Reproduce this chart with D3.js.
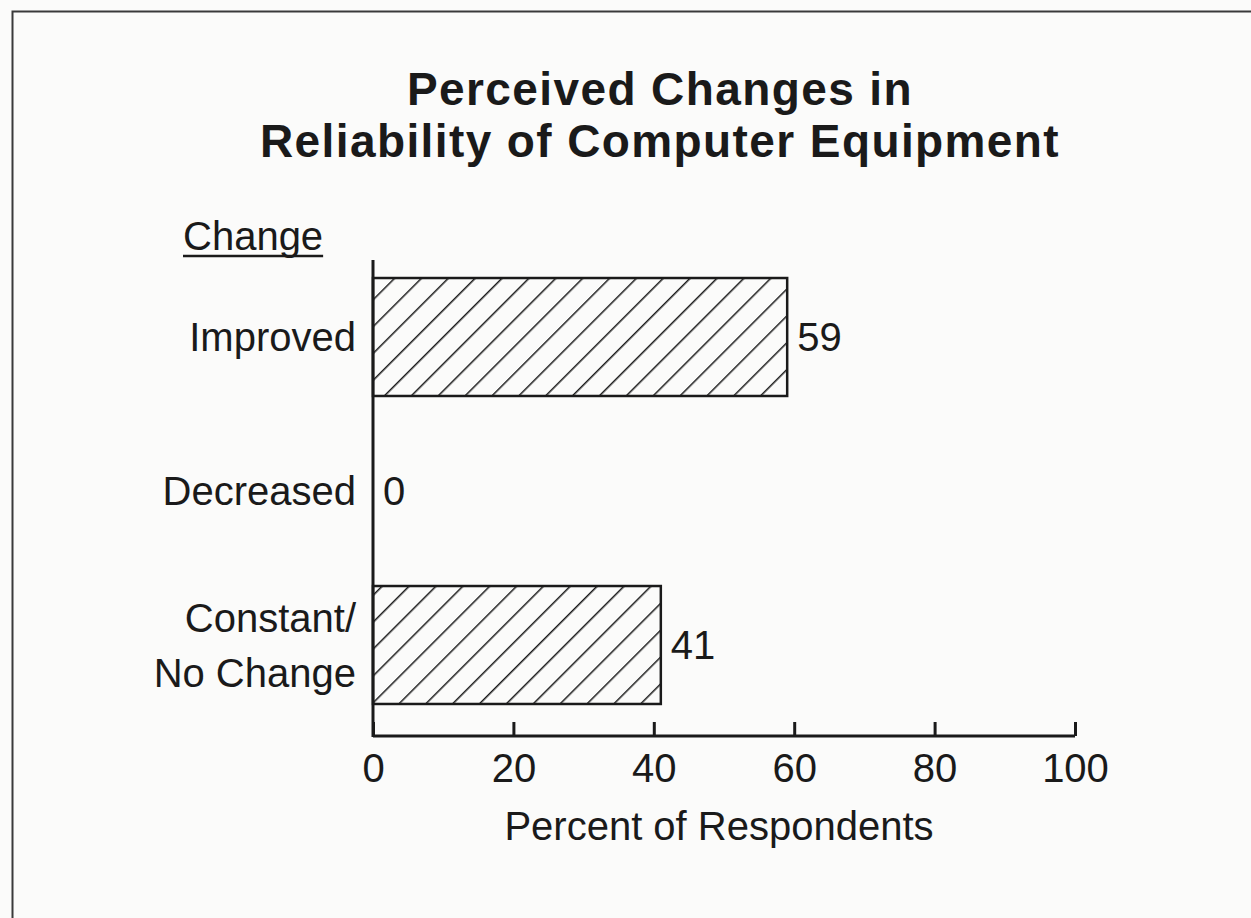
<!DOCTYPE html>
<html>
<head>
<meta charset="utf-8">
<script src="https://cdn.jsdelivr.net/npm/d3@7"></script>
<style>
  html, body { margin: 0; padding: 0; background: #fbfbfa; }
  svg { display: block; }
  text { font-family: "Liberation Sans", Arial, Helvetica, sans-serif; fill: #1a1a1a; }
</style>
</head>
<body>
<div id="chart"></div>
<script>
const titleLines = ["Perceived Changes in", "Reliability of Computer Equipment"];
const categories = ["Improved", "Decreased", "Constant/\nNo Change"];
const values = [59, 0, 41];
const xTicks = [0, 20, 40, 60, 80, 100];
const yAxisHeader = "Change";
const xAxisTitle = "Percent of Respondents";

const W = 1251, H = 918;
const svg = d3.select("#chart").append("svg").attr("width", W).attr("height", H);

svg.append("rect").attr("x", 0).attr("y", 0).attr("width", W).attr("height", H).attr("fill", "#fbfbfa");

// frame
svg.append("path")
  .attr("d", `M12.5,${H} L12.5,11.5 L${W},11.5`)
  .attr("fill", "none").attr("stroke", "#3a3a3a").attr("stroke-width", 2);

// hatch pattern
const defs = svg.append("defs");
const pat = defs.append("pattern")
  .attr("id", "hatch").attr("patternUnits", "userSpaceOnUse")
  .attr("width", 19).attr("height", 19)
  .attr("patternTransform", "rotate(45)");
pat.append("line").attr("x1", 0).attr("y1", 0).attr("x2", 0).attr("y2", 19)
  .attr("stroke", "#1a1a1a").attr("stroke-width", 3);

const x = d3.scaleLinear().domain([0, 100]).range([373, 1075]);
const y = d3.scaleBand().domain(categories).range([260, 722]).paddingInner(0.234).paddingOuter(0.117);

// title
svg.append("g").selectAll("text").data(titleLines).join("text")
  .attr("x", 660).attr("y", (d, i) => 105 + i * 52)
  .attr("text-anchor", "middle")
  .style("font-size", "46px").style("font-weight", "bold").style("letter-spacing", "1.4px")
  .text(d => d);

// bars
svg.append("g").selectAll("rect").data(values.map((v, i) => ({c: categories[i], v}))).join("rect")
  .filter(d => d.v > 0)
  .attr("x", x(0))
  .attr("y", d => y(d.c))
  .attr("width", d => x(d.v) - x(0))
  .attr("height", y.bandwidth())
  .attr("fill", "url(#hatch)")
  .attr("stroke", "#1a1a1a").attr("stroke-width", 2.5);

// value labels
svg.append("g").selectAll("text").data(values).join("text")
  .attr("x", d => x(d) + 10)
  .attr("y", (d, i) => y(categories[i]) + y.bandwidth() / 2 + 14)
  .style("font-size", "40px")
  .text(d => d);

// x axis
const xAxis = d3.axisBottom(x).tickValues(xTicks).tickSize(-14).tickPadding(24).tickSizeOuter(0);
const gx = svg.append("g").attr("transform", "translate(0,736)").call(xAxis);
gx.select(".domain").attr("stroke", "#1a1a1a").attr("stroke-width", 3)
  .attr("d", `M${x(0)},0H${x(100)}`);
gx.selectAll(".tick line").attr("stroke", "#1a1a1a").attr("stroke-width", 3);
gx.selectAll(".tick text")
  .style("font-size", "40px").style("font-family", "'Liberation Sans', Arial, sans-serif")
  .attr("fill", "#1a1a1a").attr("dy", "0").attr("y", 46);

// y axis line
svg.append("line").attr("x1", x(0)).attr("x2", x(0)).attr("y1", 260).attr("y2", 737)
  .attr("stroke", "#1a1a1a").attr("stroke-width", 3);

// category labels
const catG = svg.append("g");
categories.forEach(c => {
  const lines = c.split("\n");
  const cy = y(c) + y.bandwidth() / 2;
  lines.forEach((ln, j) => {
    catG.append("text")
      .attr("x", 356)
      .attr("y", cy + 14 + (j - (lines.length - 1) / 2) * 55)
      .attr("text-anchor", "end")
      .style("font-size", "40px")
      .text(ln);
  });
});

// y header
const hdr = svg.append("text").attr("x", 183).attr("y", 250)
  .style("font-size", "40px").text(yAxisHeader);
const bb = hdr.node().getBBox();
svg.append("line").attr("x1", bb.x).attr("x2", bb.x + bb.width)
  .attr("y1", 256).attr("y2", 256).attr("stroke", "#1a1a1a").attr("stroke-width", 2.5);

// x axis title
svg.append("text").attr("x", 719).attr("y", 840).attr("text-anchor", "middle")
  .style("font-size", "40px").text(xAxisTitle);
</script>
</body>
</html>
